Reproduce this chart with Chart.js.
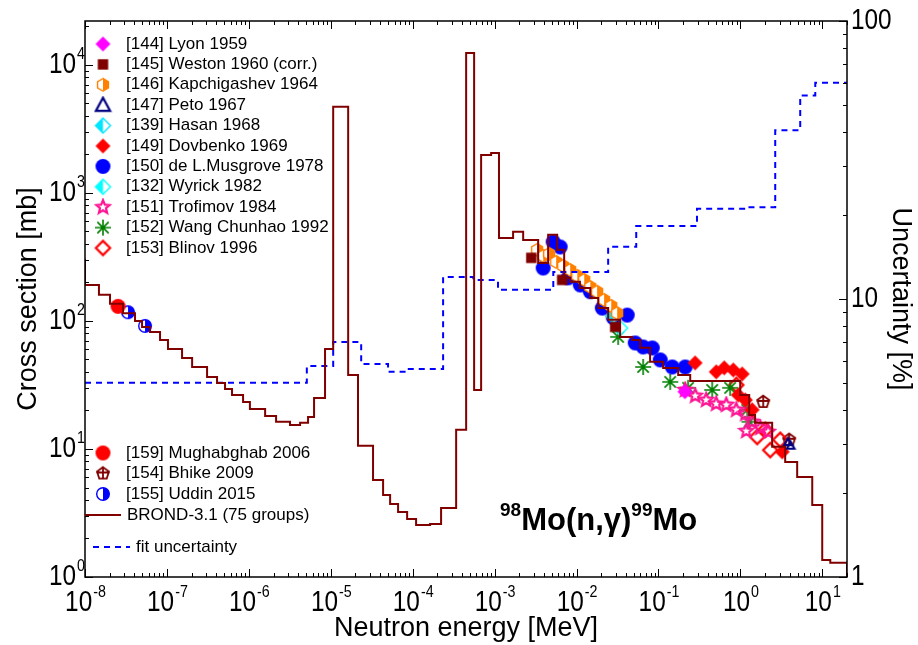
<!DOCTYPE html>
<html lang="en">
<head>
<meta charset="UTF-8">
<title>98Mo(n,g)99Mo capture cross section</title>
<script src="https://cdn.jsdelivr.net/npm/chart.js"></script>
<style>
  body { margin: 0; background: #fff; }
  #wrap { width: 918px; height: 645px; }
</style>
</head>
<body>
<div id="wrap"><canvas id="xs" width="918" height="645"></canvas></div>
<script>
// BROND-3.1 (75 groups): group lower edges [MeV] and cross section [mb]
const brondE = [5e-9, 1e-8, 1.48e-8, 2.02e-8, 2.91e-8, 4.08e-8, 4.97e-8, 6.22e-8, 8.24e-8, 1.03e-7,
  1.53e-7, 2.03e-7, 3.09e-7, 4.09e-7, 5.12e-7, 6.23e-7, 8.5e-7, 1.03e-6, 1.58e-6, 2.15e-6,
  3.18e-6, 4.22e-6, 5.28e-6, 6.25e-6, 8.51e-6, 1.07e-5, 1.63e-5, 2.15e-5, 3.28e-5, 4.35e-5,
  5.3e-5, 6.63e-5, 8.55e-5, 1.1e-4, 1.63e-4, 2.22e-4, 3.39e-4, 4.49e-4, 5.62e-4, 6.84e-4,
  9.06e-4, 1.13e-3, 1.68e-3, 2.23e-3, 3.4e-3, 4.5e-3, 5.8e-3, 7.06e-3, 8.36e-3, 1.1e-2,
  1.47e-2, 1.84e-2, 2.43e-2, 3.4e-2, 4.77e-2, 5.98e-2, 7.9e-2, 0.114, 0.174, 0.244,
  0.995, 1.28, 1.51, 2.44, 3.52, 4.93, 7.53, 9.97, 12.5, 20];
const brondXS = [300, 191, 160, 136, 115, 100, 89.8, 82, 71, 60.4,
  51.4, 43.7, 36.5, 32.8, 29.4, 26.4, 23.3, 20.5, 18.1, 16.3,
  15.4, 16.0, 17.8, 25.0, 60.4, 4700, 37.8, 10.6, 5.73, 4.37,
  3.72, 3.22, 2.84, 2.55, 2.59, 3.46, 14.1, 12400, 28.9, 1980,
  2050, 445, 496, 429, 284, 470, 359, 217, 202, 181,
  151, 126, 102, 75, 71, 61.6, 47.9, 42.9, 37.8, 34,
  26.4, 18.4, 16.0, 10.4, 7.9, 6.04, 3.65, 1.36, 1.29, 0.5];

// fit uncertainty [%] (right axis)
const uncE = [1e-8, 5.1e-6, 1.07e-5, 2.35e-5, 5.0e-5, 8.5e-5, 2.35e-4, 5.5e-4, 1.1e-3, 5.2e-3,
  2.43e-2, 5.35e-2, 0.295, 1.15, 2.66, 5.37, 8.2, 20];
const uncPct = [5.0, 5.74, 7.0, 5.84, 5.47, 5.6, 12.0, 11.7, 10.8, 12.5,
  15.4, 18.3, 21.1, 21.4, 40.5, 54, 60, 60];

// experimental points: energy [MeV], cross section [mb]
const lyonE = [0.21];
const lyonXS = [28];
const westonE = [2.8e-3, 6.67e-3, 2.96e-2];
const westonXS = [311, 209, 89.8];
const kapchE = [3.3e-3, 3.91e-3, 4.63e-3, 5.64e-3, 6.86e-3, 8.36e-3, 1.02e-2, 1.24e-2, 1.47e-2, 1.78e-2, 2.17e-2, 2.65e-2, 3.13e-2];
const kapchXS = [359, 322, 334, 289, 269, 250, 225, 209, 184, 169, 146, 131, 115];
const petoE = [3.8, 4.1];
const petoXS = [11.3, 10.6];
const hasanE = [2.8e-2];
const hasanXS = [109];
const dovbE = [0.28, 0.507, 0.634, 0.818, 1.05, 0.94, 1.15, 1.39, 3.24];
const dovbXS = [47, 40, 43, 41.4, 38.5, 26.4, 24.1, 20.2, 9.5];
const musgE = [3.91e-3, 5.18e-3, 6.31e-3, 7.89e-3, 1.11e-2, 1.47e-2, 2.06e-2, 2.8e-2, 4.15e-2, 5.2e-2, 6.5e-2, 8.4e-2, 0.105, 0.147, 0.212];
const musgXS = [259, 414, 378, 217, 191, 169, 126, 106, 111, 67.3, 62.6, 61.5, 49.6, 43.7, 43.7];
const wyrickE = [3.4e-2];
const wyrickXS = [88];
const trofE = [0.212, 0.281, 0.382, 0.507, 0.672, 0.89, 1.15, 1.18, 1.39, 1.75, 2.18];
const trofXS = [28.9, 26, 24.1, 22.5, 22.1, 20.2, 18.8, 13.8, 16.3, 14.6, 13.6];
const wangE = [3.22e-2, 6.5e-2, 0.139, 0.23, 0.453, 0.75, 1.21, 1.29];
const wangXS = [75, 43.7, 33.4, 30, 28.9, 30, 20.2, 16.3];
const blinovE = [0.89, 1.6, 2.01, 2.31, 3.06];
const blinovXS = [31.6, 12.4, 14.1, 9.8, 11.8];
const mughE = [2.53e-8];
const mughXS = [130];
const bhikeE = [1.9, 3.94];
const bhikeXS = [23.3, 11.8];
const uddinE = [3.35e-8, 5.4e-8];
const uddinXS = [117, 91.4];

const FONT = "'Liberation Sans', Arial, sans-serif";

// marker images
function mk(kind, color, size) {
  const s = size + 4, c = document.createElement('canvas');
  c.width = s; c.height = s;
  const g = c.getContext('2d');
  const m = s / 2, r = size / 2;
  g.strokeStyle = color; g.fillStyle = color; g.lineWidth = 1.8;
  const poly = (n, rot, rad) => {
    g.beginPath();
    for (let i = 0; i < n; i++) {
      const a = rot + i * 2 * Math.PI / n;
      g.lineTo(m + rad * Math.cos(a), m + rad * Math.sin(a));
    }
    g.closePath();
  };
  const half = (side) => {
    g.save(); g.fillStyle = '#fff'; g.fill(); g.restore();
    g.save(); g.beginPath();
    if (side === 'left') g.rect(0, 0, m, s); else g.rect(m, 0, s, s);
    g.clip();
  };
  if (kind === 'diamond') { poly(4, -Math.PI / 2, r); g.fill(); }
  else if (kind === 'square') { g.fillRect(m - r * 0.8, m - r * 0.8, r * 1.6, r * 1.6); }
  else if (kind === 'hexHalf') {
    poly(6, -Math.PI / 2, r * 0.9); half('right'); poly(6, -Math.PI / 2, r * 0.9); g.fill(); g.restore();
    poly(6, -Math.PI / 2, r * 0.9); g.lineWidth = 1.4; g.stroke();
  }
  else if (kind === 'triangle') {
    g.beginPath(); g.moveTo(m, m - r); g.lineTo(m + r * 0.95, m + r * 0.75); g.lineTo(m - r * 0.95, m + r * 0.75); g.closePath();
    g.lineWidth = 2.2; g.stroke();
  }
  else if (kind === 'diamondHalf') {
    poly(4, -Math.PI / 2, r); half('left'); poly(4, -Math.PI / 2, r); g.fill(); g.restore();
    poly(4, -Math.PI / 2, r); g.lineWidth = 1.4; g.stroke();
  }
  else if (kind === 'circle') { g.beginPath(); g.arc(m, m, r, 0, 2 * Math.PI); g.fill(); }
  else if (kind === 'circleHalf') {
    g.beginPath(); g.arc(m, m, r * 0.9, 0, 2 * Math.PI); half('right');
    g.beginPath(); g.arc(m, m, r * 0.9, 0, 2 * Math.PI); g.fill(); g.restore();
    g.beginPath(); g.arc(m, m, r * 0.9, 0, 2 * Math.PI); g.lineWidth = 1.4; g.stroke();
  }
  else if (kind === 'star') {
    g.beginPath();
    for (let i = 0; i < 10; i++) {
      const a = -Math.PI / 2 + i * Math.PI / 5, rad = i % 2 ? r * 0.45 : r;
      g.lineTo(m + rad * Math.cos(a), m + rad * Math.sin(a));
    }
    g.closePath(); g.lineWidth = 2.2; g.stroke();
  }
  else if (kind === 'asterisk') {
    g.beginPath();
    for (let i = 0; i < 4; i++) {
      const a = i * Math.PI / 4;
      g.moveTo(m - r * Math.cos(a), m - r * Math.sin(a));
      g.lineTo(m + r * Math.cos(a), m + r * Math.sin(a));
    }
    g.lineWidth = 1.6; g.stroke();
  }
  else if (kind === 'diamondOpen') { poly(4, -Math.PI / 2, r * 0.95); g.lineWidth = 2.2; g.stroke(); }
  else if (kind === 'pentaCross') {
    poly(5, -Math.PI / 2, r * 0.9); g.lineWidth = 1.8; g.stroke();
    g.beginPath(); g.moveTo(m - r * 0.9, m - 1); g.lineTo(m + r * 0.9, m - 1);
    g.moveTo(m, m - r * 0.9); g.lineTo(m, m + r * 0.75); g.stroke();
  }
  return c;
}

const expSets = [
  { label: '[144] Lyon 1959', E: lyonE, XS: lyonXS, img: mk('diamond', '#ff00ff', 15) },
  { label: '[145] Weston 1960 (corr.)', E: westonE, XS: westonXS, img: mk('square', '#800000', 13) },
  { label: '[146] Kapchigashev 1964', E: kapchE, XS: kapchXS, img: mk('hexHalf', '#ff8000', 14) },
  { label: '[147] Peto 1967', E: petoE, XS: petoXS, img: mk('triangle', '#000080', 15), dataImg: mk('triangle', '#000080', 8) },
  { label: '[139] Hasan 1968', E: hasanE, XS: hasanXS, img: mk('diamondHalf', '#00e5ff', 15) },
  { label: '[149] Dovbenko 1969', E: dovbE, XS: dovbXS, img: mk('diamond', '#ff0000', 15) },
  { label: '[150] de L.Musgrove 1978', E: musgE, XS: musgXS, img: mk('circle', '#0000ff', 15) },
  { label: '[132] Wyrick 1982', E: wyrickE, XS: wyrickXS, img: mk('diamondHalf', '#00ffff', 15) },
  { label: '[151] Trofimov 1984', E: trofE, XS: trofXS, img: mk('star', '#ff1493', 14) },
  { label: '[152] Wang Chunhao 1992', E: wangE, XS: wangXS, img: mk('asterisk', '#008000', 16) },
  { label: '[153] Blinov 1996', E: blinovE, XS: blinovXS, img: mk('diamondOpen', '#ff0000', 15) },
  { label: '[159] Mughabghab 2006', E: mughE, XS: mughXS, img: mk('circle', '#ff0000', 15) },
  { label: '[154] Bhike 2009', E: bhikeE, XS: bhikeXS, img: mk('pentaCross', '#800000', 14) },
  { label: '[155] Uddin 2015', E: uddinE, XS: uddinXS, img: mk('circleHalf', '#0000ff', 14) }
];

const datasets = expSets.map(s => ({
  type: 'scatter',
  label: s.label,
  data: s.E.map((e, i) => ({ x: e, y: s.XS[i] })),
  pointStyle: s.dataImg || s.img,
  pointRadius: 7,
  pointHoverRadius: 7,
  yAxisID: 'y',
  order: 2
}));
datasets.push({
  type: 'line',
  label: 'BROND-3.1 (75 groups)',
  data: brondE.map((e, i) => ({ x: e, y: brondXS[i] })),
  borderColor: '#800000',
  borderWidth: 2,
  stepped: true,
  pointRadius: 0,
  fill: false,
  yAxisID: 'y',
  order: 0
});
datasets.push({
  type: 'line',
  label: 'fit uncertainty',
  data: uncE.map((e, i) => ({ x: e, y: uncPct[i] })),
  borderColor: '#0000ff',
  borderWidth: 2,
  borderDash: [6, 5],
  stepped: true,
  pointRadius: 0,
  fill: false,
  yAxisID: 'y2',
  order: 1
});

// narrow text, like the original plot's axis numbers
function ntext(ctx, t, x, y, size, sx) {
  ctx.font = size + 'px ' + FONT;
  const w = ctx.measureText(t).width * sx;
  ctx.save();
  ctx.translate(x, y);
  ctx.scale(sx, 1);
  ctx.fillText(t, 0, 0);
  ctx.restore();
  return w;
}
function textWidth(ctx, t, size, sx) {
  ctx.font = size + 'px ' + FONT;
  return ctx.measureText(t).width * sx;
}

function drawPow(ctx, exp, x, y, align) {
  const wb = textWidth(ctx, '10', 29, 0.84);
  const we = textWidth(ctx, exp, 17, 0.84);
  const x0 = align === 'center' ? x - (wb + we) / 2 : (align === 'right' ? x - wb - we : x);
  ctx.textAlign = 'left';
  ctx.textBaseline = 'middle';
  ntext(ctx, '10', x0, y, 29, 0.84);
  ntext(ctx, exp, x0 + wb + 1, y - 11, 17, 0.84);
}

const decor = {
  id: 'decor',
  afterDraw(chart) {
    const { ctx, chartArea: a, scales } = chart;
    const sx = scales.x, sy = scales.y, sy2 = scales.y2;
    ctx.save();
    ctx.fillStyle = '#000';
    ctx.strokeStyle = '#000';
    ctx.lineWidth = 1;
    ctx.beginPath();
    // x ticks (bottom and top)
    for (let k = -8; k <= 1; k++) {
      for (let j = 1; j <= 9; j++) {
        const v = j * Math.pow(10, k);
        if (v < sx.min || v > sx.max) continue;
        const px = Math.round(sx.getPixelForValue(v)) + 0.5;
        const len = j === 1 ? 8 : 4;
        ctx.moveTo(px, a.bottom); ctx.lineTo(px, a.bottom - len);
        ctx.moveTo(px, a.top); ctx.lineTo(px, a.top + len);
      }
    }
    // left y ticks
    for (let k = 0; k <= 4; k++) {
      for (let j = 1; j <= 9; j++) {
        const v = j * Math.pow(10, k);
        if (v > sy.max) continue;
        const py = Math.round(sy.getPixelForValue(v)) + 0.5;
        ctx.moveTo(a.left, py); ctx.lineTo(a.left + (j === 1 ? 8 : 4), py);
      }
    }
    // right y ticks
    for (let k = 0; k <= 2; k++) {
      for (let j = 1; j <= 9; j++) {
        const v = j * Math.pow(10, k);
        if (v > sy2.max) continue;
        const py = Math.round(sy2.getPixelForValue(v)) + 0.5;
        ctx.moveTo(a.right, py); ctx.lineTo(a.right - (j === 1 ? 8 : 4), py);
      }
    }
    ctx.stroke();
    ctx.lineWidth = 1.5;
    ctx.strokeRect(a.left, a.top, a.right - a.left, a.bottom - a.top);

    // tick labels
    for (let k = -8; k <= 1; k++) drawPow(ctx, String(k), sx.getPixelForValue(Math.pow(10, k)), 603, 'center');
    for (let k = 0; k <= 4; k++) drawPow(ctx, String(k), 84, sy.getPixelForValue(Math.pow(10, k)), 'right');
    ctx.textAlign = 'left';
    ctx.textBaseline = 'middle';
    ['1', '10', '100'].forEach(t => ntext(ctx, t, a.right + 4, sy2.getPixelForValue(Number(t)), 29, 0.84));

    // legend
    ctx.font = '17px ' + FONT;
    expSets.forEach((s, i) => {
      const yy = i < 11 ? 44 + i * 20.4 : 453 + (i - 11) * 20.5;
      ctx.drawImage(s.img, 103 - s.img.width / 2, yy - s.img.height / 2);
      ctx.fillText(s.label, 126, yy);
    });
    ctx.strokeStyle = '#800000';
    ctx.lineWidth = 2;
    ctx.beginPath(); ctx.moveTo(85, 515); ctx.lineTo(121, 515); ctx.stroke();
    ctx.fillText('BROND-3.1 (75 groups)', 127, 515);
    ctx.strokeStyle = '#0000ff';
    ctx.setLineDash([6, 5]);
    ctx.beginPath(); ctx.moveTo(93, 547); ctx.lineTo(130, 547); ctx.stroke();
    ctx.setLineDash([]);
    ctx.fillText('fit uncertainty', 136, 547);

    // reaction label
    let x = 500;
    const base = 530;
    ctx.textBaseline = 'alphabetic';
    [['98', true], ['Mo(n,\u03b3)', false], ['99', true], ['Mo', false]].forEach(([t, sup]) => {
      ctx.font = (sup ? 'bold 19px ' : 'bold 31px ') + FONT;
      ctx.fillText(t, x, sup ? base - 14 : base);
      x += ctx.measureText(t).width;
    });
    ctx.restore();
  }
};

const titleFont = { family: FONT, size: 27 };

new Chart(document.getElementById('xs'), {
  type: 'scatter',
  data: { datasets: datasets },
  options: {
    responsive: false,
    animation: false,
    layout: { padding: { top: 21, left: 0, right: 0, bottom: 0 } },
    plugins: { legend: { display: false }, tooltip: { enabled: false } },
    scales: {
      x: {
        type: 'logarithmic', position: 'bottom', min: 1e-8, max: 20,
        grid: { display: false }, border: { display: false }, ticks: { display: false },
        title: { display: true, text: 'Neutron energy [MeV]', color: '#000', font: titleFont, padding: { top: 0, bottom: 0 } },
        afterFit: s => { s.height = 68; }
      },
      y: {
        type: 'logarithmic', position: 'left', min: 1, max: 22000,
        grid: { display: false }, border: { display: false }, ticks: { display: false },
        title: { display: true, text: 'Cross section [mb]', color: '#000', font: titleFont, padding: { top: 12, bottom: 0 } },
        afterFit: s => { s.width = 85; }
      },
      y2: {
        type: 'logarithmic', position: 'right', min: 1, max: 100,
        grid: { display: false }, border: { display: false }, ticks: { display: false },
        title: { display: true, text: 'Uncertainty [%]', color: '#000', font: titleFont, padding: { top: 1, bottom: 0 } },
        afterFit: s => { s.width = 71; }
      }
    }
  },
  plugins: [decor]
});
</script>
</body>
</html>
